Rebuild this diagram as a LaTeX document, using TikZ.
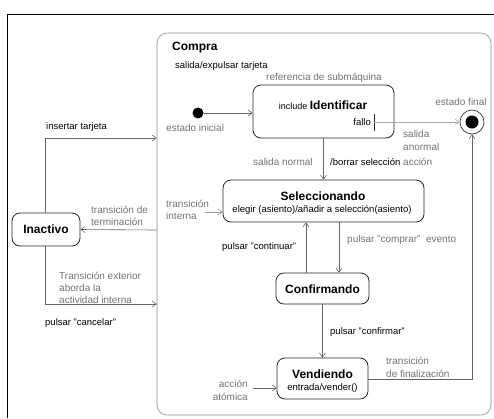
\documentclass[tikz,border=0pt]{standalone}
\usepackage{fontspec}
\setmainfont{Liberation Sans}
\usetikzlibrary{arrows.meta}
\begin{document}
\begin{tikzpicture}[x=1pt,y=-1pt,
  state/.style={draw=black!85, line width=0.8pt, rounded corners=8pt, inner sep=0pt},
  statename/.style={font=\fontsize{12}{14}\selectfont\bfseries, inner sep=0pt},
  lbl/.style={font=\fontsize{9.5}{11}\selectfont, text=black, inner sep=0pt},
  note/.style={font=\fontsize{10}{12}\selectfont, text=black!55, inner sep=0pt, align=left},
  trans/.style={draw=black!60, line width=0.6pt, -{Straight Barb[length=4pt,width=6pt]}},
]
\useasboundingbox (0,0) rectangle (494,418);
\fill[white] (0,0) rectangle (494,418);

% outer frame
\draw[line width=1pt] (7,418) -- (7,14) -- (494,14);

% composite state
\node[draw=black!45, line width=0.6pt, rounded corners=10pt, minimum width=334pt,
      minimum height=382pt, inner sep=0pt] (compra) at (324,224) {};
\node[statename, anchor=west] (tcompra) at (172,48) {Compra};
\node[lbl, anchor=west] (tsalida) at (175,66) {salida/expulsar tarjeta};

% initial state
\node[circle, fill=black, minimum size=11pt, inner sep=0pt] (init) at (198,113) {};
\node[note, anchor=west] (tinit) at (166,128) {estado inicial};

% submachine reference
\node[state, minimum width=141pt, minimum height=53pt] (ident) at (323.5,111.5) {};
\node[note] (tref) at (324,78) {referencia de submáquina};
\node[anchor=base, inner sep=0pt] (tident) at (323,109)
  {\fontsize{9}{11}\selectfont include \fontsize{12}{14}\selectfont\bfseries Identificar};
\node[lbl, anchor=east] (tfallo) at (371,122) {fallo};
\draw[black!85, line width=0.7pt] (374,114) -- (374,131);
\coordinate (fallo) at (374,122);

% final state
\node[circle, draw=black!80, line width=0.7pt, minimum size=24pt, inner sep=0pt] (final) at (472,122) {};
\fill (final.center) circle (6.5pt);
\node[note] (tfinal) at (461,102) {estado final};

\node[note, anchor=west] (tsal1) at (403,134) {salida};
\node[note, anchor=west] (tsal2) at (403,147) {anormal};
\node[note, anchor=west] (taccion) at (403,162) {acción};

% Seleccionando
\node[state, minimum width=201pt, minimum height=42pt] (sel) at (323.5,201) {};
\node[statename] (tsel) at (323,196) {Seleccionando};
\node[lbl] (tselint) at (322,210) {elegir (asiento)/añadir a selección(asiento)};
\node[note, anchor=west] (tint1) at (166,204) {transición};
\node[note, anchor=west] (tint2) at (166,216) {interna};
\coordinate (intsrc) at (205,212);

\node[note, anchor=west] (tnormal) at (253,162) {salida normal};
\node[lbl, anchor=west] (tborrar) at (330,162) {/borrar selección};

% Confirmando
\node[state, minimum width=93pt, minimum height=31pt] (conf) at (322.5,288.5) {};
\node[statename] (tconf) at (322.5,289) {Confirmando};
\node[lbl, anchor=west] (tcont) at (222,247) {pulsar "continuar"};
\node[note, anchor=west] (tcomp) at (347,240) {pulsar "comprar"\ \ evento};

% Vendiendo
\node[state, minimum width=91pt, minimum height=41pt] (vend) at (322.5,378.5) {};
\node[statename] (tvend) at (322.5,374) {Vendiendo};
\node[lbl] (tvendint) at (322.5,388) {entrada/vender()};
\node[lbl, anchor=west] (tconfirm) at (330,332) {pulsar "confirmar"};
\node[note, anchor=east] (tat1) at (248,384) {acción};
\node[note, anchor=east] (tat2) at (248,397) {atómica};
\coordinate (atsrc) at (253,388);
\node[note, anchor=west] (tfin1) at (386,361) {transición};
\node[note, anchor=west] (tfin2) at (386,374) {de finalización};

% Inactivo
\node[state, minimum width=68pt, minimum height=33pt] (inact) at (46,229.5) {};
\node[statename] (tinact) at (46,229.5) {Inactivo};
\node[lbl, anchor=west] (tins) at (46,127) {insertar tarjeta};
\node[note, anchor=west] (tterm1) at (91,210) {transición de};
\node[note, anchor=west] (tterm2) at (91,222) {terminación};
\node[note, anchor=west] (text1) at (59,276) {Transición exterior};
\node[note, anchor=west] (text2) at (59,288) {aborda la};
\node[note, anchor=west] (text3) at (59,300) {actividad interna};
\node[lbl, anchor=west] (tcanc) at (45,323) {pulsar "cancelar"};

% transitions
\draw[trans] (init) -- (ident.west |- init);
\draw[trans, draw=black!35] (fallo) -- (final.west);
\draw[trans] (ident.south) -- (sel.north);
\draw[trans, draw=black!40] (intsrc) -- (sel.west |- intsrc);
\draw[trans] (conf.north -| 306,0) -- (sel.south -| 306,0);
\draw[trans] (sel.south -| 339,0) -- (conf.north -| 339,0);
\draw[trans] (conf.south) -- (vend.north);
\draw[trans] (atsrc) -- (vend.west |- atsrc);
\draw[trans] (vend.east |- 0,379) -| (final.south);
\draw[trans] (inact.north -| 45,0) |- (compra.west |- 0,138);
\draw[trans] (compra.west |- 0,230) -- (inact.east);
\draw[trans] (inact.south -| 45,0) |- (compra.west |- 0,304);
\end{tikzpicture}
\end{document}
